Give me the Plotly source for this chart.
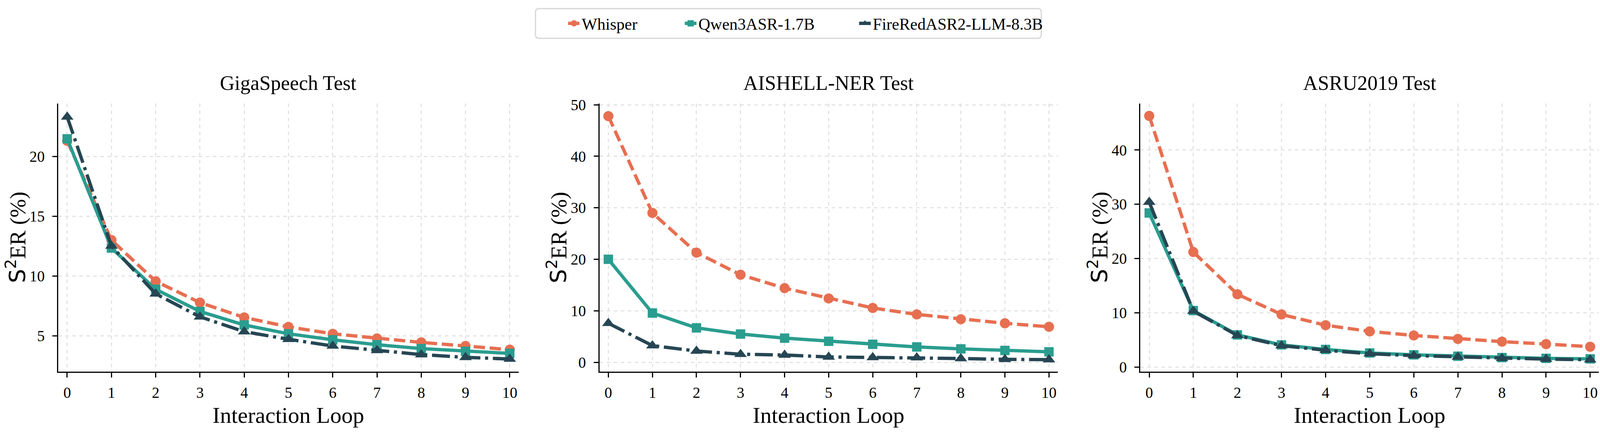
import plotly.graph_objects as go

# reference layout measured on a 4745 x 1108 canvas
W, H = 4745, 1108

loops = list(range(11))
models = ["Whisper", "Qwen3ASR-1.7B", "FireRedASR2-LLM-8.3B"]
panel_titles = ["GigaSpeech Test", "AISHELL-NER Test", "ASRU2019 Test"]

giga_whisper = [21.3, 13.0, 9.55, 7.77, 6.53, 5.74, 5.16, 4.77, 4.44, 4.14, 3.83]
giga_qwen = [21.47, 12.33, 8.88, 7.03, 5.9, 5.16, 4.66, 4.25, 3.92, 3.69, 3.52]
giga_firered = [23.3, 12.5, 8.5, 6.58, 5.34, 4.7, 4.14, 3.77, 3.42, 3.19, 3.05]

aishell_whisper = [47.8, 29.0, 21.3, 17.0, 14.4, 12.4, 10.55, 9.3, 8.36, 7.58, 6.9]
aishell_qwen = [20.0, 9.56, 6.69, 5.49, 4.7, 4.08, 3.5, 2.98, 2.61, 2.3, 2.04]
aishell_firered = [7.58, 3.24, 2.19, 1.57, 1.41, 1.04, 0.94, 0.89, 0.73, 0.57, 0.52]

asru_whisper = [46.3, 21.2, 13.4, 9.69, 7.7, 6.56, 5.81, 5.17, 4.67, 4.22, 3.73]
asru_qwen = [28.4, 10.4, 5.91, 4.07, 3.23, 2.58, 2.24, 1.99, 1.74, 1.59, 1.49]
asru_firered = [30.4, 10.3, 5.81, 3.93, 3.08, 2.43, 2.09, 1.84, 1.59, 1.44, 1.34]

panels = [
    [giga_whisper, giga_qwen, giga_firered],
    [aishell_whisper, aishell_qwen, aishell_firered],
    [asru_whisper, asru_qwen, asru_firered],
]
y_ticks = [[5, 10, 15, 20], [0, 10, 20, 30, 40, 50], [0, 10, 20, 30, 40]]
y_ranges = [[2.0, 24.43], [-1.8, 50.27], [-0.85, 48.6]]

colors = ["#E76F51", "#2A9D8F", "#264653"]
dashes = ["29px,12px", "solid", "46px,12px,8px,12px"]
symbols = ["circle", "square", "triangle-up"]
msizes = [26, 24, 28]

SERIF = "Liberation Serif, Times New Roman, serif"

# pixel placement of the three plot areas (reference canvas)
x_px = [(173, 1538), (1778, 3137), (3382, 4742)]
y_px = (253, 957)
ydom = [1 - y_px[1] / H, 1 - y_px[0] / H]

# legend: one small legend per entry so spacing follows the reference
legend_text_x = [1729, 2075, 2592]
legend_names = ["legend", "legend2", "legend3"]

fig = go.Figure()

for p, series in enumerate(panels):
    ax = "" if p == 0 else str(p + 1)
    for m, vals in enumerate(series):
        fig.add_trace(go.Scatter(
            x=loops, y=vals, name=models[m],
            mode="lines+markers",
            line=dict(color=colors[m], width=8.5, dash=dashes[m]),
            marker=dict(symbol=symbols[m], size=msizes[m], color=colors[m]),
            xaxis="x" + ax, yaxis="y" + ax,
            showlegend=(p == 0), legend=legend_names[m],
        ))

layout = dict(
    margin=dict(l=0, r=0, t=0, b=0),
    paper_bgcolor="white", plot_bgcolor="white",
    font=dict(family=SERIF, color="black", size=39),
    annotations=[],
)

for m, name in enumerate(legend_names):
    layout[name] = dict(
        orientation="h", x=(legend_text_x[m] - 50) / W, xanchor="left",
        y=1 - 43 / H, yanchor="middle",
        font=dict(size=42, family=SERIF), bgcolor="rgba(0,0,0,0)", borderwidth=0,
    )

# rounded legend frame
bx0, bx1, by0, by1 = 1588 / W, 3088 / W, 1 - 82 / H, 1 - 4 / H
rx, ry = 10 / W, 10 / H
frame = (f"M {bx0 + rx},{by1} L {bx1 - rx},{by1} Q {bx1},{by1} {bx1},{by1 - ry} "
         f"L {bx1},{by0 + ry} Q {bx1},{by0} {bx1 - rx},{by0} L {bx0 + rx},{by0} "
         f"Q {bx0},{by0} {bx0},{by0 + ry} L {bx0},{by1 - ry} Q {bx0},{by1} {bx0 + rx},{by1} Z")
layout["shapes"] = [dict(type="path", path=frame, xref="paper", yref="paper",
                         line=dict(color="#d6d6d6", width=3), fillcolor="white", layer="below")]

for p in range(3):
    ax = "" if p == 0 else str(p + 1)
    x0, x1 = x_px[p]
    common = dict(
        showline=True, linecolor="black", linewidth=3,
        ticks="outside", ticklen=12, tickwidth=3, tickcolor="black",
        showgrid=True, gridcolor="#e3e3e3", gridwidth=3, griddash="dash",
        zeroline=False, mirror=False,
        tickfont=dict(size=39, family=SERIF),
    )
    layout["xaxis" + ax] = dict(
        common, domain=[x0 / W, x1 / W], range=[-0.2, 10.2],
        tickvals=loops, anchor="y" + ax, ticklabelstandoff=5,
    )
    layout["yaxis" + ax] = dict(
        common, domain=ydom, range=y_ranges[p],
        tickvals=y_ticks[p], anchor="x" + ax, ticklabelstandoff=12,
    )
    cx = (x0 + x1) / 2 / W
    layout["annotations"] += [
        dict(text=panel_titles[p], x=cx, y=1 - 200 / H, xref="paper", yref="paper",
             showarrow=False, xanchor="center", yanchor="middle",
             font=dict(size=52, family=SERIF)),
        dict(text="Interaction Loop", x=cx, y=1 - 1072 / H, xref="paper", yref="paper",
             showarrow=False, xanchor="center", yanchor="middle",
             font=dict(size=58, family=SERIF)),
        dict(text="<span style='font-family:DejaVu Sans'>S<sup>2</sup></span>ER (%)",
             x=(x0 - 126) / W, y=1 - 605 / H, xref="paper", yref="paper",
             showarrow=False, xanchor="center", yanchor="middle", textangle=-90,
             font=dict(size=57, family=SERIF)),
    ]

fig.update_layout(layout)

# drop the page margin so the figure fills the window exactly
fill = """
var gd = document.getElementById('{plot_id}');
document.documentElement.style.margin = '0';
document.body.style.margin = '0';
document.body.style.overflow = 'hidden';
Plotly.Plots.resize(gd);
"""
fig.write_html("out.html", default_width="100vw", default_height="100vh",
               post_script=fill, config={"displayModeBar": False})
